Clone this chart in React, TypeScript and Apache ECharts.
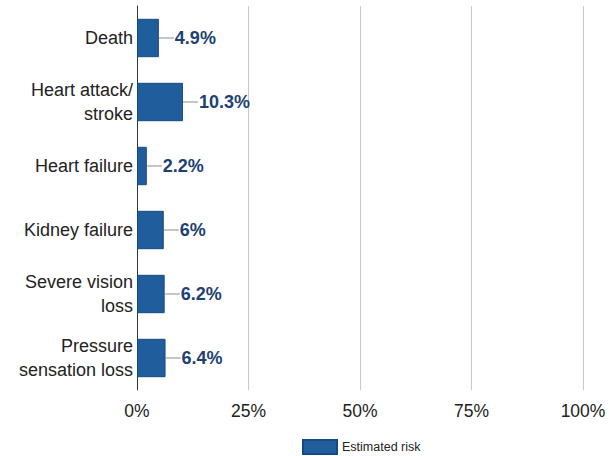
import React, { useEffect, useRef } from "react";
import * as echarts from "echarts";

const categories = [
  "Death",
  "Heart attack/\nstroke",
  "Heart failure",
  "Kidney failure",
  "Severe vision\nloss",
  "Pressure\nsensation loss",
];
const values = [4.9, 10.3, 2.2, 6, 6.2, 6.4];
const seriesName = "Estimated risk";
const xTicks = [0, 25, 50, 75, 100];

export default function App() {
  const ref = useRef<HTMLDivElement>(null);
  useEffect(() => {
    if (!ref.current) return;
    const chart = echarts.init(ref.current, null, { renderer: "svg" });
    chart.setOption({
      animation: false,
      textStyle: { fontFamily: "Liberation Sans, Arial, sans-serif" },
      grid: { left: 137, right: 26, top: 6, bottom: 66, containLabel: false },
      legend: {
        show: true,
        left: 297,
        top: 434,
        icon: "rect",
        itemWidth: 34,
        itemHeight: 14,
        itemGap: 6,
        textStyle: { fontSize: 12.5, color: "#222", fontFamily: "Liberation Sans, Arial, sans-serif" },
        data: [seriesName],
      },
      xAxis: {
        type: "value",
        min: xTicks[0],
        max: xTicks[xTicks.length - 1],
        interval: 25,
        axisLine: { show: false },
        axisTick: { show: false },
        splitLine: { show: true, lineStyle: { color: "#c8c8c8", width: 1 } },
        axisLabel: {
          formatter: (v: number) => v + "%",
          fontSize: 17.5,
          color: "#222",
          margin: 12,
        },
      },
      yAxis: {
        type: "category",
        inverse: true,
        data: categories,
        axisLine: { show: true, lineStyle: { color: "#333", width: 1 } },
        axisTick: { show: false },
        axisLabel: {
          fontSize: 18,
          color: "#222",
          margin: 4,
          lineHeight: 24,
          align: "right",
        },
      },
      series: [
        {
          name: seriesName,
          type: "bar",
          data: values,
          barWidth: "60%",
          itemStyle: { color: "#1f5d9c", borderColor: "#174a7c", borderWidth: 1 },
          label: {
            show: true,
            position: "right",
            distance: 0,
            formatter: (p: any) => "{line|}{val|" + p.value + "%}",
            rich: {
              line: { width: 15, height: 1, backgroundColor: "#8a8a8a" },
              val: {
                fontSize: 18,
                fontWeight: "bold",
                color: "#1d4172",
                padding: [0, 0, 0, 1],
              },
            },
          },
        },
      ],
    });
    return () => chart.dispose();
  }, []);
  return (
    <div
      ref={ref}
      style={{ position: "fixed", left: 0, top: 0, width: 609, height: 456, background: "#fff" }}
    />
  );
}
